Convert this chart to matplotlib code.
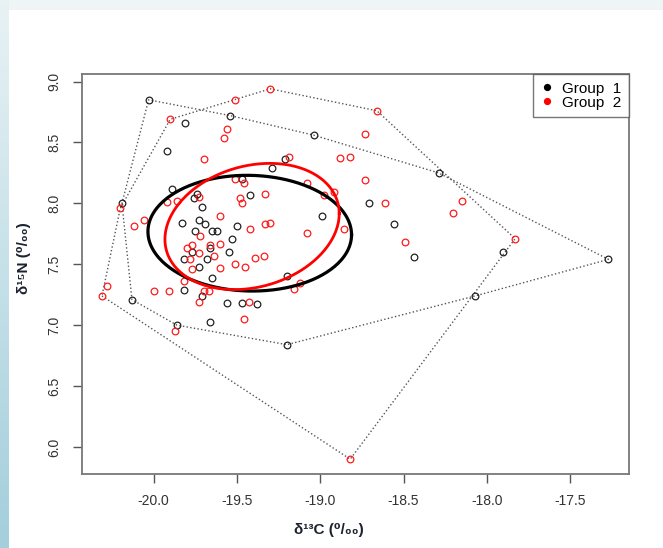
import numpy as np
import matplotlib.pyplot as plt

plt.rcParams['font.family'] = ['Liberation Sans', 'DejaVu Sans']
plt.rcParams['axes.unicode_minus'] = False

# Group 1 (black)
g1_x = [-20.03, -19.54, -19.81, -19.92, -19.29, -19.47, -19.89, -19.74, -19.76, -19.42,
        -19.71, -20.19, -19.04, -18.29, -19.21, -18.71, -18.99, -18.56, -18.44, -19.20,
        -18.07, -19.20, -17.90, -17.27, -19.83, -19.73, -19.69, -19.50, -19.75, -19.65,
        -19.62, -19.53, -19.66, -19.77, -19.55, -19.82, -19.68, -19.73, -19.65, -19.82,
        -19.71, -19.56, -19.47, -19.38, -19.66, -20.13, -19.86]
g1_y = [8.85, 8.72, 8.66, 8.43, 8.29, 8.20, 8.12, 8.08, 8.04, 8.07,
        7.97, 8.00, 8.56, 8.25, 8.36, 8.00, 7.90, 7.83, 7.56, 7.40,
        7.24, 6.84, 7.60, 7.54, 7.84, 7.86, 7.83, 7.81, 7.77, 7.77,
        7.77, 7.71, 7.63, 7.60, 7.60, 7.54, 7.54, 7.48, 7.39, 7.29,
        7.24, 7.18, 7.18, 7.17, 7.03, 7.21, 7.00]

# Group 2 (red)
g2_x = [-19.30, -19.51, -19.90, -19.56, -19.58, -19.70, -19.51, -19.46, -19.73, -19.33,
        -19.48, -19.47, -19.92, -19.86, -20.20, -18.66, -18.73, -19.19, -18.88, -18.82,
        -18.73, -19.08, -18.98, -18.92, -18.61, -18.15, -18.20, -19.33, -19.30, -19.08,
        -18.86, -18.49, -19.34, -19.12, -19.16, -17.83, -19.60, -20.06, -20.12, -19.42,
        -19.72, -19.77, -19.60, -19.66, -19.80, -19.73, -19.64, -19.39, -19.78, -19.51,
        -19.45, -19.77, -19.60, -19.82, -19.70, -19.67, -20.00, -19.91, -19.73, -19.43,
        -19.46, -20.28, -20.31, -19.87, -18.82]
g2_y = [8.94, 8.85, 8.69, 8.61, 8.54, 8.36, 8.20, 8.17, 8.05, 8.08,
        8.04, 8.00, 8.01, 8.02, 7.96, 8.76, 8.57, 8.38, 8.37, 8.38,
        8.19, 8.17, 8.07, 8.09, 8.00, 8.02, 7.92, 7.83, 7.84, 7.76,
        7.79, 7.68, 7.57, 7.35, 7.30, 7.71, 7.90, 7.86, 7.81, 7.79,
        7.73, 7.66, 7.67, 7.66, 7.63, 7.59, 7.57, 7.55, 7.54, 7.50,
        7.48, 7.46, 7.47, 7.36, 7.28, 7.28, 7.28, 7.28, 7.19, 7.19,
        7.05, 7.32, 7.24, 6.95, 5.90]

# standard ellipses: centre, sd x, sd y, covariance
ell1 = dict(cx=-19.423, cy=7.755, sx=0.611, sy=0.475, cov=-0.008)
ell2 = dict(cx=-19.409, cy=7.810, sx=0.523, sy=0.518, cov=0.055)

group_labels = ['Group  1', 'Group  2']
x_ticks = [-20.0, -19.5, -19.0, -18.5, -18.0, -17.5]
y_ticks = [6.0, 6.5, 7.0, 7.5, 8.0, 8.5, 9.0]


def hull(xs, ys):
    pts = sorted(set(zip(xs, ys)))

    def cross(o, a, b):
        return (a[0] - o[0]) * (b[1] - o[1]) - (a[1] - o[1]) * (b[0] - o[0])

    lower, upper = [], []
    for p in pts:
        while len(lower) >= 2 and cross(lower[-2], lower[-1], p) <= 0:
            lower.pop()
        lower.append(p)
    for p in reversed(pts):
        while len(upper) >= 2 and cross(upper[-2], upper[-1], p) <= 0:
            upper.pop()
        upper.append(p)
    h = lower[:-1] + upper[:-1]
    h.append(h[0])
    return [p[0] for p in h], [p[1] for p in h]


def ellipse(e):
    t = np.linspace(0, 2 * np.pi, 300)
    sig = np.array([[e['sx'] ** 2, e['cov']], [e['cov'], e['sy'] ** 2]])
    L = np.linalg.cholesky(sig)
    xy = L @ np.vstack([np.cos(t), np.sin(t)])
    return e['cx'] + xy[0], e['cy'] + xy[1]


W, H = 663, 548
fig = plt.figure(figsize=(W / 100, H / 100), dpi=100)

# slide background (light blue edge)
bg = np.ones((H, W, 3))
edge = np.linspace(0, 1, H)[:, None]
left_col = (1 - edge) * np.array([0.91, 0.95, 0.96]) + edge * np.array([0.64, 0.81, 0.86])
bg[:, :9, :] = left_col[:, None, :]
bg[:10, 9:, :] = np.array([0.94, 0.96, 0.97])
bg_ax = fig.add_axes([0, 0, 1, 1], zorder=-10)
bg_ax.imshow(bg, aspect='auto', interpolation='bilinear')
bg_ax.axis('off')

ax = fig.add_axes([81.7 / W, 1 - 474 / H, 547 / W, 400 / H])

hx, hy = hull(g1_x, g1_y)
ax.plot(hx, hy, ls=':', color='#555555', lw=1.0)
hx, hy = hull(g2_x, g2_y)
ax.plot(hx, hy, ls=':', color='#555555', lw=1.0)

ax.plot(g1_x, g1_y, 'o', mfc='none', mec='#222222', ms=4.8, mew=0.9)
ax.plot(g2_x, g2_y, 'o', mfc='none', mec='#ff1a1a', ms=4.8, mew=0.9)

ex, ey = ellipse(ell1)
ax.plot(ex, ey, color='black', lw=2.3)
ex, ey = ellipse(ell2)
ax.plot(ex, ey, color='red', lw=2.0)

# R style limits: data range + 4%
allx = g1_x + g2_x
ally = g1_y + g2_y
dx = max(allx) - min(allx)
dy = max(ally) - min(ally)
ax.set_xlim(min(allx) - 0.04 * dx, max(allx) + 0.04 * dx)
ax.set_ylim(min(ally) - 0.04 * dy, max(ally) + 0.04 * dy)

ax.set_xticks(x_ticks)
ax.set_xticklabels([f'{v:.1f}' for v in x_ticks])
ax.set_yticks(y_ticks)
ax.set_yticklabels([f'{v:.1f}' for v in y_ticks], rotation=90, va='center')
ax.tick_params(length=6.5, width=1.0, color='#555555', labelsize=10,
               labelcolor='#333333', pad=8)
for s in ax.spines.values():
    s.set_color('#777777')
    s.set_linewidth(1.3)

h1, = ax.plot([], [], 'o', color='black', ms=4.2)
h2, = ax.plot([], [], 'o', color='red', ms=4.2)
leg = ax.legend([h1, h2], group_labels, loc='upper right', borderaxespad=0,
                fontsize=11, frameon=True, fancybox=False, handlelength=0.8,
                handletextpad=0.6, borderpad=0.5, labelspacing=0.0)
leg.get_frame().set_edgecolor('#555555')
leg.get_frame().set_linewidth(1.0)

fig.text(329 / W, 1 - 530 / H, 'δ¹³C (⁰/₀₀)', ha='center', va='center',
         fontsize=11, fontweight='bold', color='#1c2230')
fig.text(24 / W, 1 - 258 / H, 'δ¹⁵N (⁰/₀₀)', ha='center', va='center',
         rotation=90, fontsize=11, fontweight='bold', color='#1c2230')

fig.savefig('out.png', dpi=100)
